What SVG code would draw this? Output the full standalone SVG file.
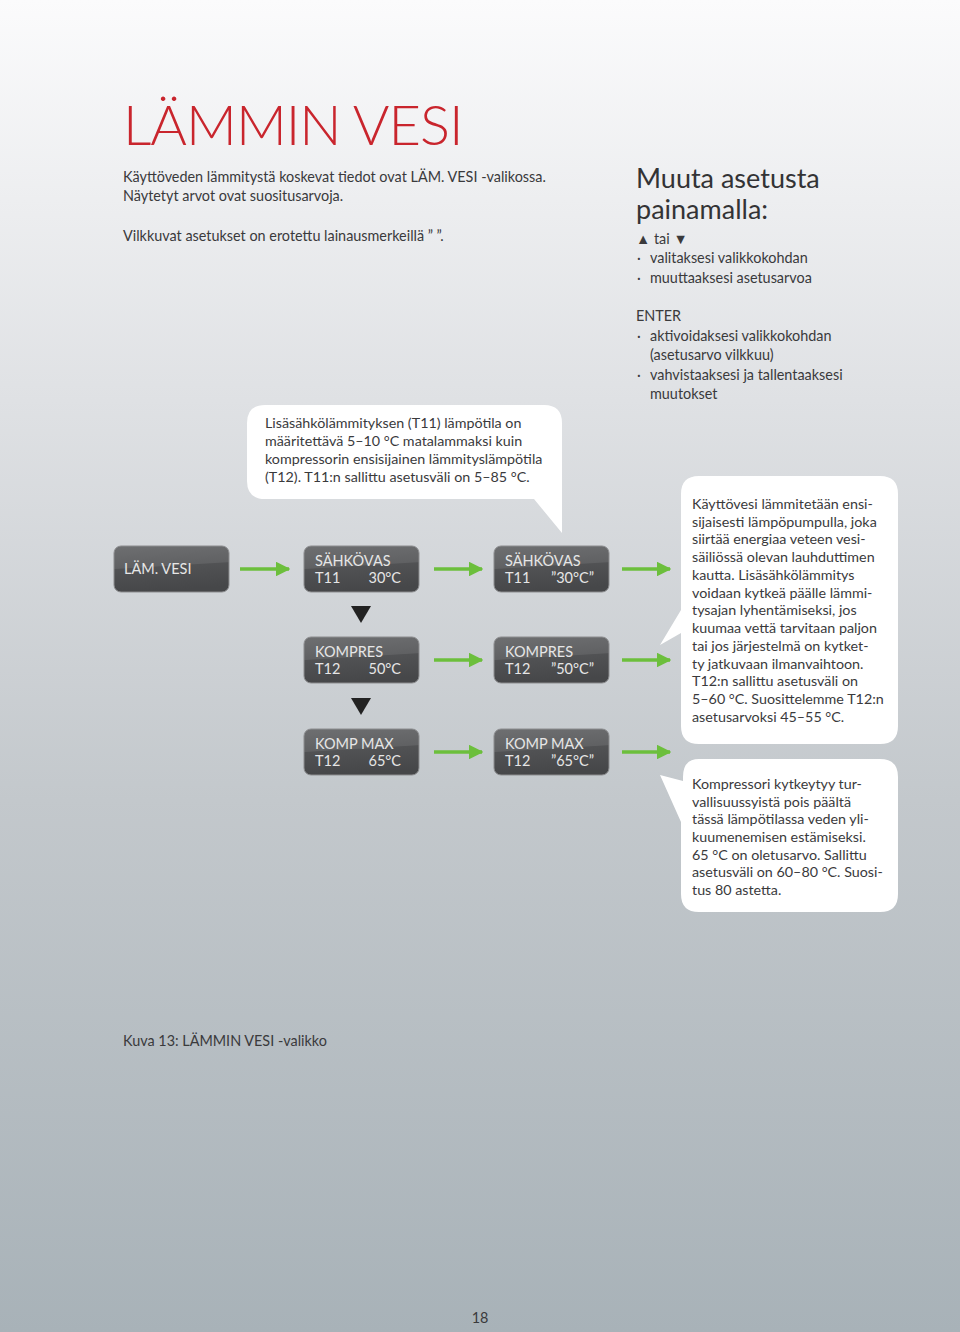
<svg xmlns="http://www.w3.org/2000/svg" width="960" height="1332" viewBox="0 0 960 1332">
<defs>
<linearGradient id="bg" x1="0" y1="0" x2="0" y2="1">
<stop offset="0" stop-color="#fbfbfc"/>
<stop offset="0.3" stop-color="#dfe1e4"/>
<stop offset="0.6" stop-color="#c3c8cc"/>
<stop offset="1" stop-color="#a8b2b8"/>
</linearGradient>
<linearGradient id="node" x1="0" y1="0" x2="0.15" y2="1">
<stop offset="0" stop-color="#6e6f71"/>
<stop offset="0.48" stop-color="#606163"/>
<stop offset="0.5" stop-color="#515254"/>
<stop offset="1" stop-color="#464749"/>
</linearGradient>
<marker id="ga" viewBox="0 0 10 10" refX="9" refY="5" markerWidth="4.2" markerHeight="4.2" orient="auto" markerUnits="strokeWidth">
<path d="M0,0 L10,5 L0,10 z" fill="#6cbf3c"/>
</marker>
</defs>
<style>
text{font-family:"Lato","Liberation Sans",sans-serif;}
.body{font-size:14.4px;fill:#3a3a3c;}
.bub{font-size:14.3px;fill:#3a3a3c;}
.nbox{fill:url(#node);stroke:#8c8d8f;stroke-width:1;}
.ntxt{font-size:14.5px;fill:#e6e6e6;}
.bubble{fill:#ffffff;}
.arr{stroke:#6cbf3c;stroke-width:3.5;fill:none;}
.tri{fill:#222222;}
</style>
<rect x="0" y="0" width="960" height="1332" fill="url(#bg)"/>

<text x="123" y="145" font-size="56" font-weight="300" fill="#c9252d" style="letter-spacing:-1px">LÄMMIN VESI</text>
<text class="body" x="123" y="182">Käyttöveden lämmitystä koskevat tiedot ovat LÄM. VESI  -valikossa.</text>
<text class="body" x="123" y="201">Näytetyt arvot ovat suositusarvoja.</text>
<text class="body" x="123" y="241">Vilkkuvat asetukset on erotettu lainausmerkeillä ” ”.</text>

<text x="636" y="188" font-size="27" fill="#333335">Muuta asetusta</text>
<text x="636" y="219" font-size="27" fill="#333335">painamalla:</text>
<text class="body" x="636" y="244">▲ tai ▼</text>
<text class="body" x="637" y="263">·</text><text class="body" x="650" y="263">valitaksesi valikkokohdan</text>
<text class="body" x="637" y="283">·</text><text class="body" x="650" y="283">muuttaaksesi asetusarvoa</text>
<text class="body" x="636" y="321">ENTER</text>
<text class="body" x="637" y="341">·</text><text class="body" x="650" y="341">aktivoidaksesi valikkokohdan</text>
<text class="body" x="650" y="360">(asetusarvo vilkkuu)</text>
<text class="body" x="637" y="380">·</text><text class="body" x="650" y="380">vahvistaaksesi ja tallentaaksesi</text>
<text class="body" x="650" y="399">muutokset</text>

<g id="bubble-t11">
<path class="bubble" d="M265,405 H544 Q562,405 562,423 V533 L534,499 H265 Q247,499 247,481 V423 Q247,405 265,405 Z"/>
<text class="bub" x="265" y="428">Lisäsähkölämmityksen (T11) lämpötila on</text>
<text class="bub" x="265" y="446">määritettävä 5–10 °C matalammaksi kuin</text>
<text class="bub" x="265" y="464">kompressorin ensisijainen lämmityslämpötila</text>
<text class="bub" x="265" y="482">(T12). T11:n sallittu asetusväli on 5–85 °C.</text>
</g>

<g id="bubble-t12">
<path class="bubble" d="M699,476 H880 Q898,476 898,494 V726 Q898,744 880,744 H699 Q681,744 681,726 V633 L660,645 L681,610 V494 Q681,476 699,476 Z"/>
<text class="bub" x="692" y="509">Käyttövesi lämmitetään ensi-</text>
<text class="bub" x="692" y="527">sijaisesti lämpöpumpulla, joka</text>
<text class="bub" x="692" y="544">siirtää energiaa veteen vesi-</text>
<text class="bub" x="692" y="562">säiliössä olevan lauhduttimen</text>
<text class="bub" x="692" y="580">kautta. Lisäsähkölämmitys</text>
<text class="bub" x="692" y="598">voidaan kytkeä päälle lämmi-</text>
<text class="bub" x="692" y="615">tysajan lyhentämiseksi, jos</text>
<text class="bub" x="692" y="633">kuumaa vettä tarvitaan paljon</text>
<text class="bub" x="692" y="651">tai jos järjestelmä on kytket-</text>
<text class="bub" x="692" y="669">ty jatkuvaan ilmanvaihtoon.</text>
<text class="bub" x="692" y="686">T12:n sallittu asetusväli on</text>
<text class="bub" x="692" y="704">5–60 °C. Suosittelemme T12:n</text>
<text class="bub" x="692" y="722">asetusarvoksi 45–55 °C.</text>
</g>

<g id="bubble-max">
<path class="bubble" d="M699,759 H880 Q898,759 898,777 V894 Q898,912 880,912 H699 Q681,912 681,894 V822 L660,775 L683,781 V777 Q683,759 699,759 Z"/>
<text class="bub" x="692" y="789">Kompressori kytkeytyy tur-</text>
<text class="bub" x="692" y="807">vallisuussyistä pois päältä</text>
<text class="bub" x="692" y="824">tässä lämpötilassa veden yli-</text>
<text class="bub" x="692" y="842">kuumenemisen estämiseksi.</text>
<text class="bub" x="692" y="860">65 °C on oletusarvo. Sallittu</text>
<text class="bub" x="692" y="877">asetusväli on 60–80 °C. Suosi-</text>
<text class="bub" x="692" y="895">tus 80 astetta.</text>
</g>

<g id="connectors">
<line class="arr" x1="240" y1="569" x2="289" y2="569" marker-end="url(#ga)"/>
<line class="arr" x1="434" y1="569" x2="482" y2="569" marker-end="url(#ga)"/>
<line class="arr" x1="434" y1="660" x2="482" y2="660" marker-end="url(#ga)"/>
<line class="arr" x1="434" y1="752" x2="482" y2="752" marker-end="url(#ga)"/>
<line class="arr" x1="622" y1="569" x2="670" y2="569" marker-end="url(#ga)"/>
<line class="arr" x1="622" y1="660" x2="670" y2="660" marker-end="url(#ga)"/>
<line class="arr" x1="622" y1="752" x2="670" y2="752" marker-end="url(#ga)"/>
<path class="tri" d="M351,606 L371,606 L361,623 Z"/>
<path class="tri" d="M351,698 L371,698 L361,715 Z"/>
</g>

<g id="n-lamvesi">
<rect class="nbox" x="114" y="546" width="115" height="46" rx="7"/>
<text class="ntxt" x="124" y="574">LÄM. VESI</text>
</g>
<g id="n-sahkovas">
<rect class="nbox" x="304" y="546" width="115" height="46" rx="7"/>
<text class="ntxt" x="315" y="566">SÄHKÖVAS</text>
<text class="ntxt" x="315" y="583">T11</text>
<text class="ntxt" x="401" y="583" text-anchor="end">30°C</text>
</g>
<g id="n-kompres">
<rect class="nbox" x="304" y="637" width="115" height="46" rx="7"/>
<text class="ntxt" x="315" y="657">KOMPRES</text>
<text class="ntxt" x="315" y="674">T12</text>
<text class="ntxt" x="401" y="674" text-anchor="end">50°C</text>
</g>
<g id="n-kompmax">
<rect class="nbox" x="304" y="729" width="115" height="46" rx="7"/>
<text class="ntxt" x="315" y="749">KOMP MAX</text>
<text class="ntxt" x="315" y="766">T12</text>
<text class="ntxt" x="401" y="766" text-anchor="end">65°C</text>
</g>
<g id="n-sahkovas2">
<rect class="nbox" x="494" y="546" width="115" height="46" rx="7"/>
<text class="ntxt" x="505" y="566">SÄHKÖVAS</text>
<text class="ntxt" x="505" y="583">T11</text>
<text class="ntxt" x="594" y="583" text-anchor="end">”30°C”</text>
</g>
<g id="n-kompres2">
<rect class="nbox" x="494" y="637" width="115" height="46" rx="7"/>
<text class="ntxt" x="505" y="657">KOMPRES</text>
<text class="ntxt" x="505" y="674">T12</text>
<text class="ntxt" x="594" y="674" text-anchor="end">”50°C”</text>
</g>
<g id="n-kompmax2">
<rect class="nbox" x="494" y="729" width="115" height="46" rx="7"/>
<text class="ntxt" x="505" y="749">KOMP MAX</text>
<text class="ntxt" x="505" y="766">T12</text>
<text class="ntxt" x="594" y="766" text-anchor="end">”65°C”</text>
</g>

<text class="body" x="123" y="1046">Kuva 13: LÄMMIN VESI -valikko</text>
<text class="body" x="480" y="1323" text-anchor="middle">18</text>
</svg>
